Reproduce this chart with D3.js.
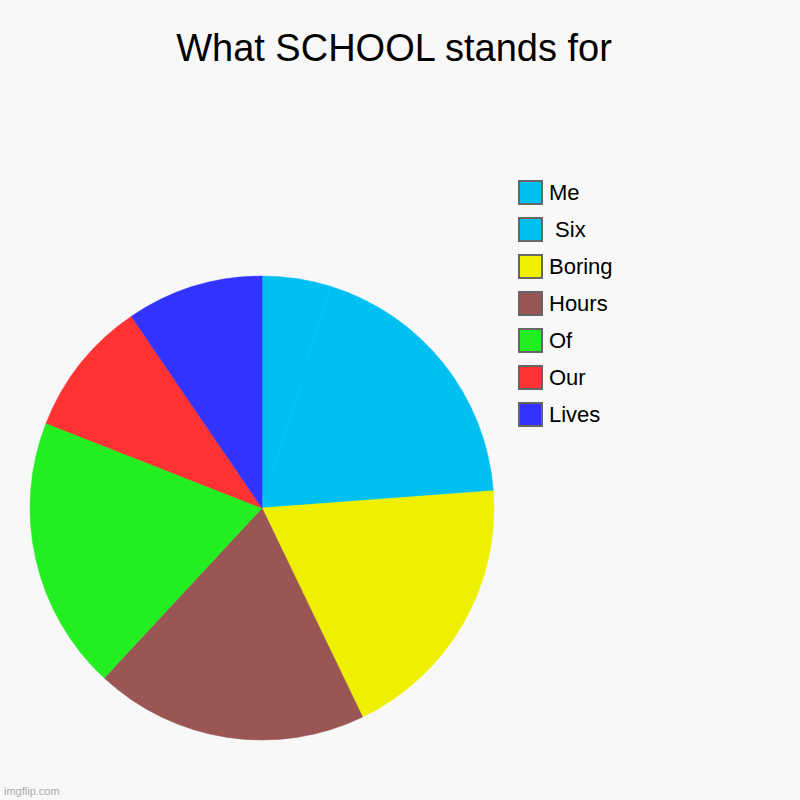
<!DOCTYPE html>
<html>
<head>
<meta charset="utf-8">
<script src="https://cdn.jsdelivr.net/npm/d3@7"></script>
<style>
  html, body { margin: 0; padding: 0; background: #f8f8f8; }
  svg { display: block; font-family: "Liberation Sans", Arial, sans-serif; }
</style>
</head>
<body>
<script>
// chart data
const labels = ["Me", " Six", "Boring", "Hours", "Of", "Our", "Lives"];
const values = [1, 4, 4, 4, 4, 2, 2];
const colors = ["#00c0f2", "#00c0f2", "#eef000", "#9a5555", "#22ee22", "#ff3333", "#3333ff"];

const width = 800, height = 800;
const cx = 262, cy = 508, radius = 232;

const svg = d3.select("body").append("svg")
    .attr("width", width)
    .attr("height", height);

svg.append("rect")
    .attr("width", width)
    .attr("height", height)
    .attr("fill", "#f8f8f8");

// Title
svg.append("text")
    .attr("x", 394)
    .attr("y", 61)
    .attr("text-anchor", "middle")
    .attr("font-size", 38)
    .attr("fill", "#000")
    .text("What SCHOOL stands for");

// Pie
const data = labels.map((l, i) => ({ label: l, value: values[i], color: colors[i] }));

const pie = d3.pie()
    .value(d => d.value)
    .sort(null);

const arc = d3.arc()
    .innerRadius(0)
    .outerRadius(radius);

const g = svg.append("g")
    .attr("transform", `translate(${cx},${cy})`);

g.selectAll("path")
    .data(pie(data))
    .join("path")
    .attr("d", arc)
    .attr("fill", d => d.data.color)
    .attr("stroke", d => d.data.color)
    .attr("stroke-width", 0.5);

// Legend
const legendY = d3.scaleBand()
    .domain(labels)
    .range([176, 435]);

const legend = svg.append("g")
    .selectAll("g")
    .data(data)
    .join("g")
    .attr("transform", d => `translate(519,${legendY(d.label) + 5})`);

legend.append("rect")
    .attr("width", 23)
    .attr("height", 23)
    .attr("fill", d => d.color)
    .attr("stroke", "#666")
    .attr("stroke-width", 2);

legend.append("text")
    .attr("x", 30)
    .attr("y", 19)
    .attr("font-size", 22)
    .attr("fill", "#000")
    .attr("xml:space", "preserve")
    .style("white-space", "pre")
    .text(d => d.label);

// watermark
svg.append("text")
    .attr("x", 4)
    .attr("y", 795)
    .attr("font-size", 11)
    .attr("fill", "#aaa")
    .text("imgflip.com");
</script>
</body>
</html>
